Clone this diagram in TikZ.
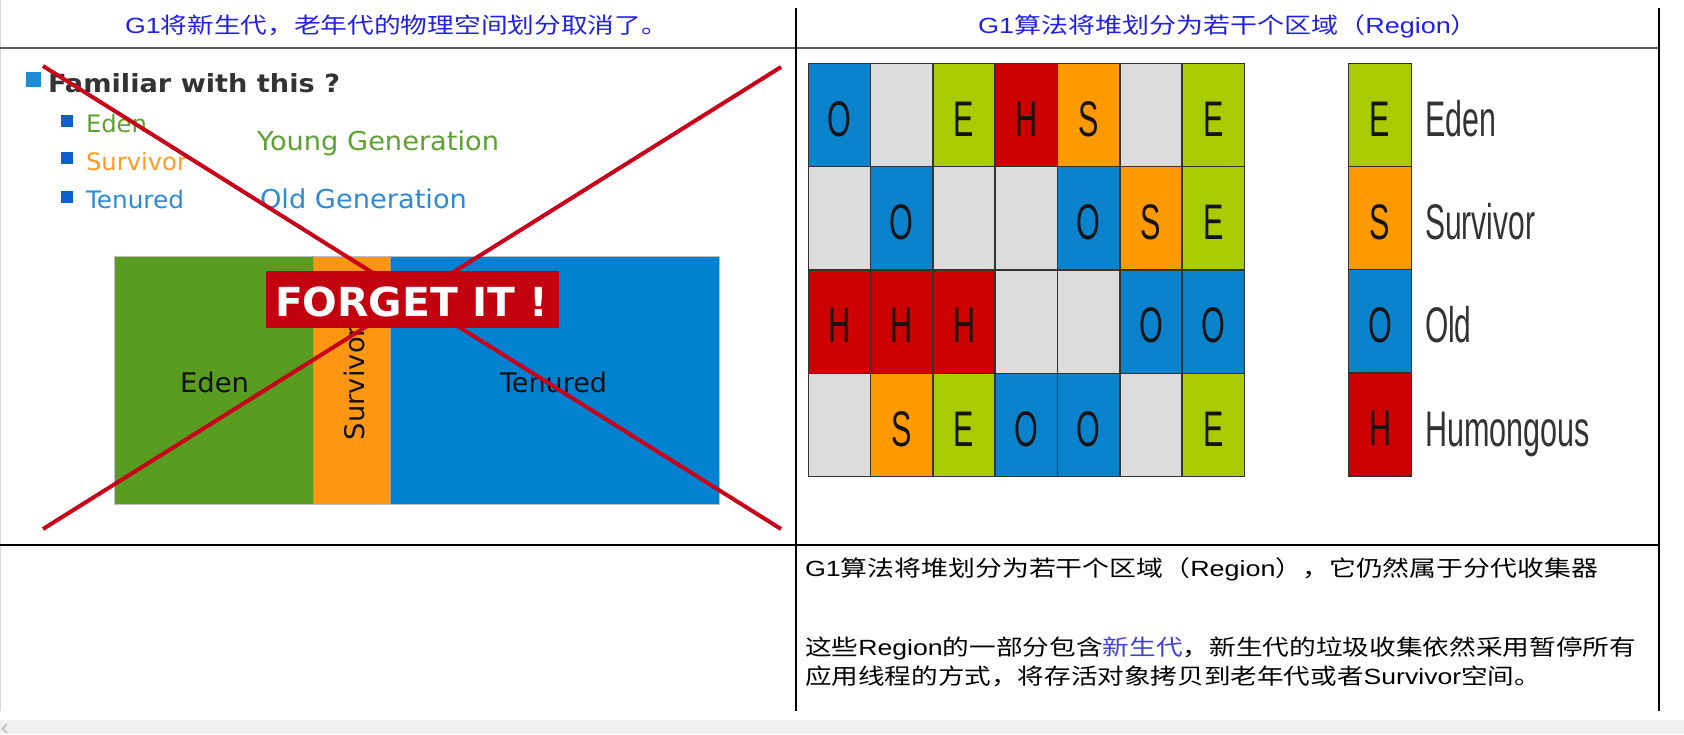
\documentclass[tikz,border=0pt]{standalone}
\usepackage{fontspec}
\usepackage{graphicx}
\setmainfont{Liberation Sans}
\newfontfamily\cjk{Noto Sans CJK SC}
\newfontfamily\dvs{DejaVu Sans}
\newcommand\fitw[2]{\resizebox{#1}{\height}{#2}}
\definecolor{hdrblue}{HTML}{2121E6}
\definecolor{tline}{HTML}{5A5A5A}
\definecolor{newgen}{HTML}{4040D8}
\definecolor{tGreen}{HTML}{5DA130}
\definecolor{tOrange}{HTML}{FF9A22}
\definecolor{tBlue}{HTML}{2C8AD6}
\definecolor{bGreen}{HTML}{589C20}
\definecolor{bOrange}{HTML}{FF9612}
\definecolor{bBlue}{HTML}{0082D0}
\definecolor{xred}{HTML}{C8001A}
\definecolor{fred}{HTML}{C2000E}
\definecolor{bul1}{HTML}{1E8BD6}
\definecolor{bul2}{HTML}{0B5FCF}
\definecolor{gE}{HTML}{A9CC00}
\definecolor{gS}{HTML}{FF9900}
\definecolor{gO}{HTML}{0A82CC}
\definecolor{gH}{HTML}{CC0000}
\definecolor{gN}{HTML}{DCDCDC}
\definecolor{scroll}{HTML}{F0F0F0}
\begin{document}
\begin{tikzpicture}[x=0.5pt,y=-0.5pt,
  txt/.style={inner sep=0pt, outer sep=0pt, anchor=base west},
  hdr/.style={txt, text=hdrblue, font=\fontsize{11pt}{13pt}\selectfont},
  body/.style={txt, text=black, font=\fontsize{11pt}{13pt}\selectfont},
  ltitle/.style={txt, text=black!80, font=\dvs\bfseries\fontsize{12.5pt}{14pt}\selectfont},
  litem/.style={txt, font=\dvs\fontsize{12pt}{14pt}\selectfont},
  lgen/.style={txt, font=\dvs\fontsize{13pt}{15pt}\selectfont},
  barlbl/.style={inner sep=0pt, outer sep=0pt, text=black!93, font=\dvs\fontsize{13.5pt}{15pt}\selectfont},
  xline/.style={draw=xred, line width=2pt},
  cellbox/.style={draw=black!80, line width=0.75pt},
  cellE/.style={cellbox, fill=gE}, cellS/.style={cellbox, fill=gS},
  cellO/.style={cellbox, fill=gO}, cellH/.style={cellbox, fill=gH},
  cellN/.style={cellbox, fill=gN},
  glet/.style={inner sep=0pt, outer sep=0pt, anchor=base, text=black!92, font=\fontsize{25pt}{27pt}\selectfont},
  leglbl/.style={txt, text=black!80, font=\fontsize{25pt}{27pt}\selectfont},
  tbl/.style={draw=black, line width=0.75pt}
]
\useasboundingbox (0,0) rectangle (1684,734);
\fill[white] (0,0) rectangle (1684,734);

% ---------- table frame ----------
\draw[black!15, line width=0.5pt] (0.5,0) -- (0.5,711);
\draw[draw=tline, line width=1.2pt] (0,48) -- (1660,48);
\draw[tbl] (0,545) -- (1660,545);
\draw[tbl] (796,8) -- (796,711);
\draw[tbl] (1659,8) -- (1659,711);

% ---------- scroll bar ----------
\fill[scroll] (0,720) rectangle (1684,734);
\draw[black!30, line width=0.6pt] (7,724) -- (2.5,728.5) -- (7,733);

% ---------- headers ----------
\node[hdr] (h1) at (125,33) {\fitw{271.5pt}{G1{\cjk 将新生代，老年代的物理空间划分取消了。}}};
\node[hdr] (h2) at (978,33) {\fitw{250pt}{G1{\cjk 算法将堆划分为若干个区域（}Region{\cjk ）}}};

% ---------- left panel ----------
\fill[bul1] (26,72) rectangle (41,87);
\node[ltitle] (fam) at (48,92) {\fitw{146pt}{Familiar with this ?}};
\fill[bul2] (61,115) rectangle (73,127);
\fill[bul2] (61,152) rectangle (73,164);
\fill[bul2] (61,191) rectangle (73,203);
\node[litem, text=tGreen] (le) at (86,132) {\fitw{30.5pt}{Eden}};
\node[litem, text=tOrange] (ls) at (86,170) {\fitw{50.5pt}{Survivor}};
\node[litem, text=tBlue] (lt) at (86,208) {\fitw{49pt}{Tenured}};
\node[lgen, text=tGreen] (yg) at (257,150) {\fitw{121pt}{Young Generation}};
\node[lgen, text=tBlue] (og) at (260,208) {\fitw{103.5pt}{Old Generation}};

\fill[bGreen] (114,256) rectangle (313,504);
\fill[bOrange] (313,256) rectangle (390,504);
\fill[bBlue] (390,256) rectangle (719,504);
\draw[black!25, line width=0.4pt] (114,256) rectangle (719,504);
\draw[black!40, line width=0.3pt] (313,256) -- (313,504) (390,256) -- (390,504);
\node[barlbl, anchor=base west] (be) at (180,392) {\fitw{34.5pt}{Eden}};
\node[barlbl, anchor=base west] (bt) at (500,392) {\fitw{53.5pt}{Tenured}};
\node[barlbl, anchor=base, rotate=90] (bs) at (364,383) {\fitw{57pt}{Survivor}};

\coordinate (x1a) at (43,66);
\coordinate (x1b) at (781,529);
\coordinate (x2a) at (781,67);
\coordinate (x2b) at (43,529);
\draw[xline] (x1a) -- (x1b);
\draw[xline] (x2a) -- (x2b);

\fill[fred] (266,271) rectangle (559,328);
\node[txt, text=white, font=\dvs\bfseries\fontsize{20pt}{22pt}\selectfont] (forget) at (275,316) {\fitw{136.5pt}{FORGET IT !}};

% ---------- region grid ----------
\foreach \t [count=\i from 0, evaluate=\i as \c using {int(mod(\i,7))}, evaluate=\i as \r using {int(div(\i,7))}] in
  {O,N,E,H,S,N,E, N,O,N,N,O,S,E, H,H,H,N,N,O,O, N,S,E,O,O,N,E} {
  \draw[cell\t] ({808.3+62.29*\c},{63.3+103.35*\r}) rectangle ({808.3+62.29*(\c+1)},{63.3+103.35*(\r+1)});
  \if N\t\else
    \node[glet] (g\i) at ({808.3+62.29*(\c+0.5)},{63.3+103.35*(\r+1)-30.5}) {\scalebox{0.61}[1]{\t}};
  \fi
}

% ---------- legend ----------
\foreach \t/\lab/\w [count=\i from 0] in {E/Eden/35.5pt, S/Survivor/55pt, O/Old/23.3pt, H/Humongous/82.5pt} {
  \draw[cell\t] (1348.3,{63.3+103.2*\i}) rectangle (1411.7,{63.3+103.2*(\i+1)});
  \node[glet] (k\i) at (1380,{63.3+103.2*(\i+1)-30.5}) {\scalebox{0.61}[1]{\t}};
  \node[leglbl] (kl\i) at (1425,{63.3+103.2*(\i+1)-30}) {\fitw{\w}{\lab}};
}

% ---------- bottom text ----------
\node[body] (b1) at (805,576) {\fitw{396.5pt}{G1{\cjk 算法将堆划分为若干个区域（}Region{\cjk ），它仍然属于分代收集器}}};
\node[body] (b2) at (805,655) {\fitw{415.5pt}{{\cjk 这些}Region{\cjk 的一部分包含\textcolor{newgen}{新生代}，新生代的垃圾收集依然采用暂停所有}}};
\node[body] (b3) at (805,684) {\fitw{368pt}{{\cjk 应用线程的方式，将存活对象拷贝到老年代或者}Survivor{\cjk 空间。}}};
\end{tikzpicture}
\end{document}
